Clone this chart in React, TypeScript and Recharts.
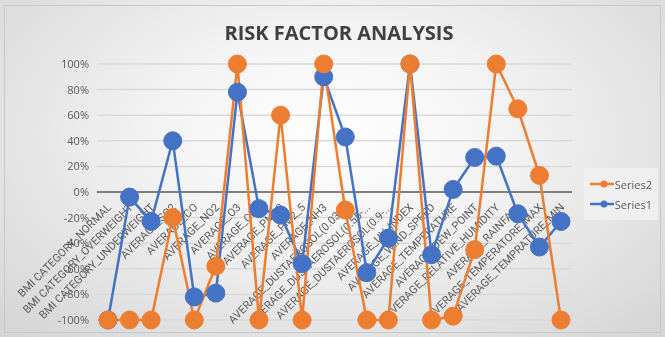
import React from 'react';
import { LineChart, Line, XAxis, YAxis, CartesianGrid, ReferenceLine } from 'recharts';

const categories = [
  'BMI CATEGORY_NORMAL',
  'BMI CATEGORY_OVERWEIGHT',
  'BMI CATEGORY_UNDERWEIGHT',
  'AVERAGE_SO2',
  'AVERAGE_CO',
  'AVERAGE_NO2',
  'AVERAGE_O3',
  'AVERAGE_CH4',
  'AVERAGE_PM10',
  'AVERAGE_PM2_5',
  'AVERAGE_NH3',
  'AVERAGE_DUSTAEROSOL(0.03-...',
  'AVERAGE_DUSTAEROSOL(0.55-...',
  'AVERAGE_DUSTAEROSOL(0.9-...',
  'AVERAGE_UV_INDEX',
  'AVERAGE_WIND_SPEED',
  'AVERAGE_TEMPERATURE',
  'AVERAGE_DEW_POINT',
  'AVERAGE_RELATIVE_HUMIDITY',
  'AVERAGE_RAINFALL',
  'AVERAGE_TEMPERATORE_MAX',
  'AVERAGE_TEMPRATURE_MIN',
];

const series1 = [-100, -4, -23, 40, -82, -79, 78, -13, -18, -56, 90, 43, -63, -36, 100, -49, 2, 27, 28, -17, -43, -23];
const series2 = [-100, -100, -100, -20, -100, -58, 100, -100, 60, -100, 100, -14, -100, -100, 100, -100, -97, -45, 100, 65, 13, -100];

const yTicks = [-100, -80, -60, -40, -20, 0, 20, 40, 60, 80, 100];

const data = categories.map((c, i) => ({ name: c, Series1: series1[i], Series2: series2[i] }));

const W = 665;
const H = 337;
const TOP = 64;
const BOTTOM = 16;
const LEFT = 97;
const RIGHT = 93;
const PAD = { left: 11, right: 11 };
const ZERO_Y = TOP + (H - TOP - BOTTOM - 1) / 2;

const BLUE = '#4472C4';
const ORANGE = '#ED7D31';
const TEXT = '#595959';
const FONT = "'Open Sans', sans-serif";

// category labels sit under the 0% line, like Excel does
const CategoryTick = (props: any) => {
  const { x, payload } = props;
  const ax = x + 4;
  const ay = ZERO_Y + 16;
  return (
    <text
      x={ax}
      y={ay}
      transform={`rotate(-45, ${ax}, ${ay})`}
      textAnchor="end"
      fontSize={11}
      fill={TEXT}
      fontFamily="Roboto, sans-serif"
    >
      {payload.value}
    </text>
  );
};

const LegendBox = () => (
  <div
    style={{
      position: 'absolute',
      left: 584,
      top: 168,
      background: '#efefef',
      padding: '6px 6px',
      width: 62,
      fontFamily: FONT,
      fontSize: 11,
      color: TEXT,
    }}
  >
    {[{ label: 'Series2', color: ORANGE }, { label: 'Series1', color: BLUE }].map((s) => (
      <div key={s.label} style={{ display: 'flex', alignItems: 'center', height: 20 }}>
        <svg width={28} height={10}>
          <line x1={0} y1={5} x2={28} y2={5} stroke={s.color} strokeWidth={2.5} />
          <circle cx={14} cy={5} r={3.5} fill={s.color} />
        </svg>
        <span style={{ marginLeft: 1 }}>{s.label}</span>
      </div>
    ))}
  </div>
);

export default function App() {
  return (
    <div
      style={{
        position: 'fixed',
        left: 0,
        top: 0,
        width: W,
        height: H,
        background: 'radial-gradient(ellipse at 50% 40%, #ffffff 0%, #f4f4f4 35%, #d4d4d4 100%)',
      }}
    >
      <div
        style={{
          position: 'absolute',
          left: 4,
          top: 5,
          width: W - 8,
          height: H - 9,
          border: '1px solid #c8c8c8',
          boxSizing: 'border-box',
        }}
      />
      <div
        style={{
          position: 'absolute',
          top: 19,
          left: 0,
          width: 678,
          textAlign: 'center',
          fontFamily: FONT,
          fontWeight: 700,
          fontSize: 20,
          color: '#404040',
        }}
      >
        RISK FACTOR ANALYSIS
      </div>

      {/* back layer: grid, axes, category labels */}
      <LineChart
        width={W}
        height={H}
        data={data}
        margin={{ top: TOP, right: RIGHT, bottom: BOTTOM, left: 0 }}
        style={{ position: 'absolute', left: 0, top: 0 }}
      >
        <CartesianGrid vertical={false} stroke="#d9d9d9" strokeWidth={1.5} />
        <XAxis
          dataKey="name"
          height={1}
          interval={0}
          axisLine={false}
          tickLine={false}
          padding={PAD}
          tick={<CategoryTick />}
        />
        <YAxis
          width={LEFT}
          type="number"
          domain={[-100, 100]}
          ticks={yTicks}
          interval={0}
          axisLine={false}
          tickLine={false}
          tickFormatter={(v: number) => `${v}%`}
          tick={{ fontSize: 11, fill: TEXT, fontFamily: FONT }}
        />
        <ReferenceLine y={0} stroke="#7f7f7f" strokeWidth={2} />
        {/* invisible copy so the back axes get the same domain */}
        <Line dataKey="Series1" stroke="none" dot={false} activeDot={false} isAnimationActive={false} />
      </LineChart>

      {/* front layer: the two series */}
      <LineChart
        width={W}
        height={H}
        data={data}
        margin={{ top: TOP, right: RIGHT, bottom: BOTTOM + 1, left: LEFT }}
        style={{ position: 'absolute', left: 0, top: 0 }}
      >
        <XAxis dataKey="name" hide padding={PAD} />
        <YAxis hide type="number" domain={[-100, 100]} />
        <Line
          dataKey="Series1"
          stroke={BLUE}
          strokeWidth={2.5}
          dot={{ r: 9, fill: BLUE, stroke: BLUE, strokeWidth: 1 }}
          isAnimationActive={false}
        />
        <Line
          dataKey="Series2"
          stroke={ORANGE}
          strokeWidth={2.5}
          dot={{ r: 9, fill: ORANGE, stroke: ORANGE, strokeWidth: 1 }}
          isAnimationActive={false}
        />
      </LineChart>
      <LegendBox />
    </div>
  );
}
